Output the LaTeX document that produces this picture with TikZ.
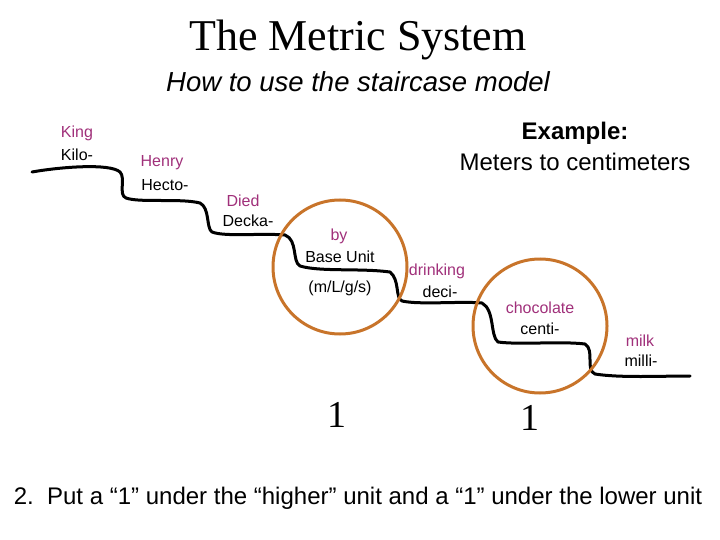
\documentclass[tikz,border=0pt]{standalone}
\usepackage{fontspec}
\setmainfont{Liberation Sans}
\newfontfamily\serifft{Liberation Serif}
\definecolor{mnem}{HTML}{A0307A}
\definecolor{ring}{HTML}{C8742A}
\begin{document}
\begin{tikzpicture}[x=1pt,y=-1pt,
  mn/.style={text=mnem,font=\fontsize{16}{18}\selectfont,inner sep=0},
  pre/.style={text=black,font=\fontsize{16}{18}\selectfont,inner sep=0},
  stair/.style={line width=3pt,black,line cap=round,line join=round},
  circ/.style={line width=3pt,ring}]
\useasboundingbox (0,0) rectangle (720,540);
\node[font=\serifft\fontsize{44}{48}\selectfont] (title) at (358,40) {The Metric System};
\node[font=\itshape\fontsize{27.5}{30}\selectfont] (sub) at (358,82) {How to use the staircase model};
\node[font=\bfseries\fontsize{24}{28}\selectfont] (ex) at (575,133) {Example:};
\node[font=\fontsize{24}{28}\selectfont] (ex2) at (575,162) {Meters to centimeters};
\draw[stair] (32,172) .. controls (60,167) and (110,163) .. (120,172)
  .. controls (126,178) and (118,195) .. (126,198)
  .. controls (140,203) and (180,198) .. (200,203)
  .. controls (210,208) and (206,228) .. (212,232)
  .. controls (225,237) and (260,233) .. (285,235)
  .. controls (298,240) and (292,262) .. (300,266)
  .. controls (320,272) and (360,268) .. (390,272)
  .. controls (400,280) and (395,298) .. (402,301)
  .. controls (420,305) and (460,301) .. (482,303)
  .. controls (495,310) and (490,336) .. (498,342)
  .. controls (520,345) and (560,341) .. (585,344)
  .. controls (595,350) and (585,370) .. (595,374)
  .. controls (620,378) and (660,376) .. (690,376);
\draw[circ] (340,267) circle (67);
\draw[circ] (540,326) circle (67);
\node[mn] (k1) at (77,133) {King};
\node[pre] (k2) at (77,155) {Kilo-};
\node[mn] (h1) at (162,163) {Henry};
\node[pre] (h2) at (165,185) {Hecto-};
\node[mn] (d1) at (243,201) {Died};
\node[pre] (d2) at (248,221) {Decka-};
\node[mn] (b1) at (339,236) {by};
\node[pre] (b2) at (340,257) {Base Unit};
\node[pre] (b3) at (340,288) {(m/L/g/s)};
\node[mn] (dr1) at (437,271) {drinking};
\node[pre] (dr2) at (440,292) {deci-};
\node[mn] (c1) at (540,308) {chocolate};
\node[pre] (c2) at (540,329) {centi-};
\node[mn] (m1) at (640,341) {milk};
\node[pre] (m2) at (641,361) {milli-};
\node[font=\serifft\fontsize{38}{40}\selectfont] (one1) at (337,415) {1};
\node[font=\serifft\fontsize{38}{40}\selectfont] (one2) at (530,418) {1};
\node[font=\fontsize{24}{28}\selectfont] (foot) at (358,498) {2.\ \ Put a “1” under the “higher” unit and a “1” under the lower unit};
\end{tikzpicture}
\end{document}
